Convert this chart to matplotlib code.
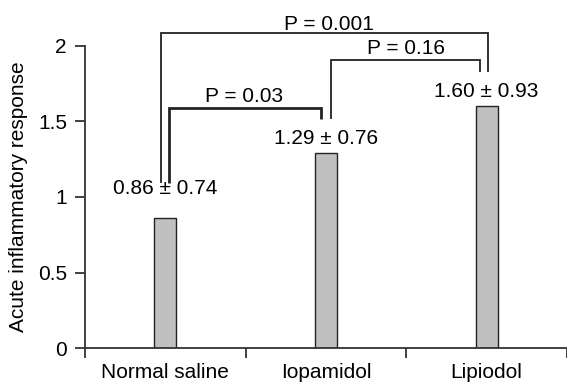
import numpy as np
import matplotlib.pyplot as plt

plt.rcParams['font.family'] = ['Liberation Sans', 'DejaVu Sans']

groups = ['Normal saline', 'Iopamidol', 'Lipiodol']
means = [0.86, 1.29, 1.60]
sds = [0.74, 0.76, 0.93]
label_y = [1.02, 1.35, 1.66]

# brackets: (left x, left bottom, right x, right bottom, top y, text, text x, text y, linewidth)
brackets = [
    (0.02, 1.093, 0.97, 1.517, 1.59, 'P = 0.03', 0.49, 1.63, 2.0),
    (1.03, 1.517, 1.96, 1.83, 1.91, 'P = 0.16', 1.50, 1.947, 1.3),
    (-0.03, 1.093, 2.01, 1.83, 2.086, 'P = 0.001', 1.02, 2.106, 1.3),
]

fig = plt.figure(figsize=(5.67, 3.83), dpi=100)
ax = fig.add_axes([85 / 567, 35 / 383, 482 / 567, 348 / 383])

x = np.arange(len(groups))
ax.bar(x, means, width=0.135, color='#c0c0c0', edgecolor='#222222', linewidth=1.0, zorder=2)

for xi, m, s, ly in zip(x, means, sds, label_y):
    ax.text(xi, ly, f'{m:.2f} \u00b1 {s:.2f}', ha='center', va='baseline', fontsize=15)

for lx, lb, rx, rb, top, txt, tx, ty, lw in brackets:
    ax.plot([lx, lx, rx, rx], [lb, top, top, rb], color='#222222', linewidth=lw,
            solid_capstyle='butt', solid_joinstyle='miter', clip_on=False)
    ax.text(tx, ty, txt, ha='center', va='baseline', fontsize=15)

ax.set_xlim(-0.5, 2.475)
ax.set_ylim(0, 348 / 151)

for side in ['top', 'right']:
    ax.spines[side].set_visible(False)
ax.spines['left'].set_bounds(0, 2)
for side in ['left', 'bottom']:
    ax.spines[side].set_color('#333333')
    ax.spines[side].set_linewidth(1.3)

ax.set_yticks([0, 0.5, 1, 1.5, 2])
ax.set_yticklabels(['0', '0.5', '1', '1.5', '2'])
ax.tick_params(axis='y', direction='out', length=7, width=1.3, color='#333333',
               labelsize=15, pad=6)

ax.set_xticks(x)
ax.set_xticklabels(groups)
ax.set_xticks([-0.5, 0.5, 1.5, 2.5], minor=True)
ax.tick_params(axis='x', which='major', length=0, labelsize=15, pad=11)
ax.tick_params(axis='x', which='minor', direction='out', length=7, width=1.3, color='#333333')

ax.set_ylabel('Acute inflammatory response', fontsize=15)
ax.yaxis.set_label_coords(-0.118, 1 / (348 / 151 * 1.0) * 1.0)

fig.savefig('out.png', dpi=100)
